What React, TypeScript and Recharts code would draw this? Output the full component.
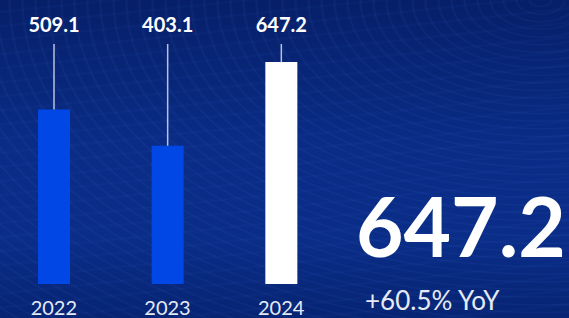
import React from 'react';
import { BarChart, Bar, XAxis, YAxis, LabelList, Cell } from 'recharts';

const years = ['2022', '2023', '2024'];
const revenue = [509.1, 403.1, 647.2];
const highlight = [false, false, true];
const headline = '647.2';
const growth = '+60.5% YoY';

const data = years.map((year, i) => ({ year, value: revenue[i], current: highlight[i] }));

const FONT = 'Lato, "Noto Sans", sans-serif';
const LABEL_TOP = 44;

const ValueLabel = (props: any) => {
  const { x, y, width, value } = props;
  const cx = x + width / 2;
  return (
    <g>
      <line x1={cx} y1={LABEL_TOP} x2={cx} y2={y} stroke="#b9c2dc" strokeWidth={1.5} />
      <text x={cx} y={32} textAnchor="middle" fill="#ffffff" fontFamily={FONT} fontWeight={700} fontSize={20}>
        {value.toFixed(1)}
      </text>
    </g>
  );
};

const YearTick = (props: any) => {
  const { x, y, payload } = props;
  return (
    <text x={x} y={y + 31} textAnchor="middle" fill="#e6eaf5" fontFamily={FONT} fontSize={20}>
      {payload.value}
    </text>
  );
};

const App = () => {
  return (
    <div
      style={{
        position: 'absolute',
        left: 0,
        top: 0,
        width: 569,
        height: 318,
        overflow: 'hidden',
        background:
          'repeating-radial-gradient(ellipse at 95% 0%, rgba(70,120,230,0) 0px, rgba(70,120,230,0) 9px, rgba(80,130,235,0.08) 11px, rgba(70,120,230,0) 13px), ' +
          'repeating-linear-gradient(174deg, rgba(60,110,220,0) 0px, rgba(60,110,220,0) 10px, rgba(60,110,220,0.06) 12px, rgba(60,110,220,0) 14px), ' +
          'linear-gradient(180deg, #061f68 0%, #0a2c86 45%, #0a2d88 75%, #072473 100%)',
      }}
    >
      <div style={{ position: 'absolute', left: -3, top: 0 }}>
        <BarChart width={341} height={318} data={data} margin={{ top: LABEL_TOP, right: 0, bottom: 0, left: 0 }}>
          <XAxis
            dataKey="year"
            axisLine={false}
            tickLine={false}
            tickSize={0}
            tickMargin={0}
            height={34}
            interval={0}
            tick={<YearTick />}
          />
          <YAxis hide domain={[0, 700]} />
          <Bar dataKey="value" barSize={32} isAnimationActive={false}>
            {data.map((d) => (
              <Cell key={d.year} fill={d.current ? '#ffffff' : '#0047e6'} />
            ))}
            <LabelList dataKey="value" content={<ValueLabel />} />
          </Bar>
        </BarChart>
      </div>
      <svg width={569} height={318} style={{ position: 'absolute', left: 0, top: 0, pointerEvents: 'none' }}>
        <text x={356} y={257} fill="#ffffff" fontFamily={FONT} fontWeight={700} fontSize={82}>
          {headline}
        </text>
        <text x={365} y={310} fill="#e6eaf5" fontFamily={FONT} fontSize={26}>
          {growth}
        </text>
      </svg>
    </div>
  );
};

export default App;
